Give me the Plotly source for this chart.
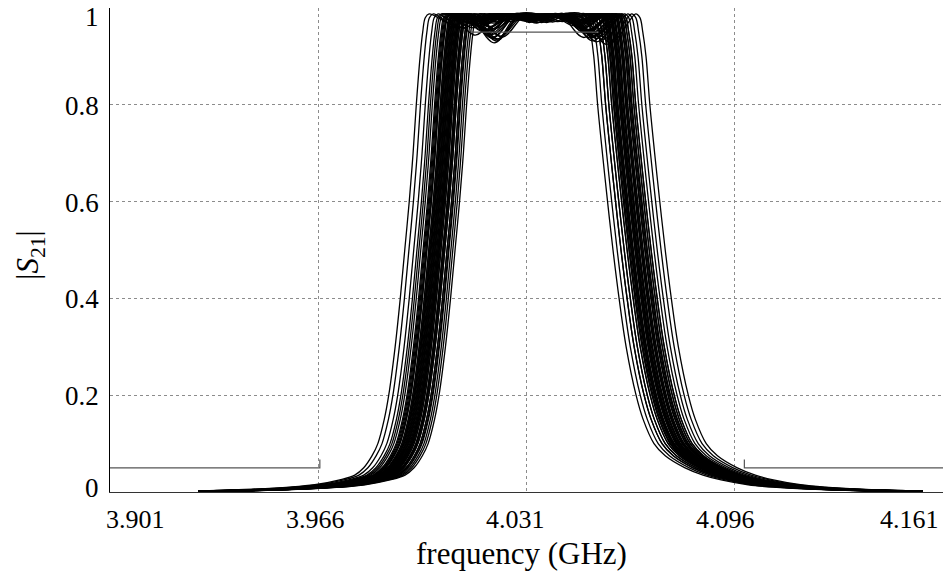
import plotly.graph_objects as go

# ---------------- data ----------------
# Axis ticks
x_tick_vals = [3.901, 3.966, 4.031, 4.096, 4.161]
x_tick_text = ["3.901", "3.966", "4.031", "4.096", "4.161"]
y_tick_vals = [0, 0.2, 0.4, 0.6, 0.8, 1.0]
y_tick_text = ["0", "0.2", "0.4", "0.6", "0.8", "1"]

# Lower-side 50% crossing (GHz) of each simulated response
left_half_ghz = [4.0005, 3.9930, 4.0037, 4.0018, 3.9987, 4.0062, 4.0024, 3.9943, 4.0049, 4.0012,
                 3.9974, 4.0030, 4.0055, 3.9999, 4.0043, 4.0080, 4.0018, 3.9958, 4.0037, 4.0068,
                 4.0005, 3.9993, 4.0024, 4.0049, 4.0087, 4.0012, 3.9980, 4.0043, 4.0030, 4.0062,
                 3.9968, 4.0055, 4.0074, 4.0018, 3.9999, 4.0037, 4.0024, 4.0049, 4.0008, 4.0040,
                 3.9990, 4.0066, 4.0034, 4.0021, 4.0015, 4.0027, 3.9996, 4.0052, 4.0033, 4.0010]
# Upper-side 50% crossing (GHz)
right_half_ghz = [4.0649, 4.0605, 4.0680, 4.0630, 4.0662, 4.0699, 4.0643, 4.0580, 4.0687, 4.0655,
                  4.0624, 4.0668, 4.0730, 4.0637, 4.0674, 4.0718, 4.0615, 4.0593, 4.0693, 4.0708,
                  4.0643, 4.0637, 4.0662, 4.0649, 4.0743, 4.0630, 4.0655, 4.0680, 4.0624, 4.0687,
                  4.0605, 4.0668, 4.0699, 4.0649, 4.0674, 4.0637, 4.0655, 4.0693, 4.0643, 4.0662,
                  4.0615, 4.0680, 4.0655, 4.0668, 4.0652, 4.0640, 4.0671, 4.0633, 4.0659, 4.0684]
# Passband ripple minima (|S21|)
left_dip = [0.972, 0.965, 0.950, 0.978, 0.968, 0.935, 0.975, 0.960, 0.945, 0.980,
            0.970, 0.955, 0.928, 0.973, 0.962, 0.940, 0.977, 0.958, 0.948, 0.971,
            0.982, 0.966, 0.952, 0.938, 0.974, 0.961, 0.979, 0.946, 0.969, 0.932,
            0.976, 0.957, 0.942, 0.967, 0.981, 0.953, 0.973, 0.939, 0.964, 0.978,
            0.959, 0.936, 0.970, 0.951, 0.962, 0.975, 0.944, 0.969, 0.957, 0.979]
right_dip = [0.968, 0.977, 0.945, 0.963, 0.974, 0.930, 0.970, 0.980, 0.940, 0.958,
             0.976, 0.950, 0.925, 0.969, 0.955, 0.935, 0.979, 0.972, 0.943, 0.953,
             0.966, 0.975, 0.948, 0.961, 0.928, 0.981, 0.957, 0.938, 0.971, 0.932,
             0.978, 0.952, 0.937, 0.964, 0.956, 0.973, 0.960, 0.942, 0.970, 0.949,
             0.979, 0.946, 0.967, 0.954, 0.958, 0.972, 0.948, 0.966, 0.939, 0.975]
mid_dip = [0.978, 0.972, 0.982, 0.975, 0.980, 0.970, 0.983, 0.976, 0.973, 0.981,
           0.979, 0.969, 0.984, 0.975, 0.977, 0.971, 0.981, 0.976, 0.970, 0.982,
           0.980, 0.973, 0.977, 0.983, 0.972, 0.979, 0.975, 0.981, 0.970, 0.977,
           0.982, 0.976, 0.973, 0.980, 0.972, 0.983, 0.975, 0.979, 0.981, 0.970,
           0.977, 0.973, 0.982, 0.976, 0.976, 0.980, 0.972, 0.978, 0.981, 0.974]
peak_level = 0.988

# Typical skirt shape: |S21| level -> offset (MHz) from the 50% point
left_levels = [0.003, 0.006, 0.01, 0.015, 0.025, 0.035, 0.05, 0.075, 0.1, 0.15, 0.2, 0.3, 0.4,
               0.5, 0.6, 0.7, 0.8, 0.9, 0.95, 0.98]
left_offset_mhz = [-60.9, -46.9, -35.9, -28.1, -20.3, -15.6, -12.8, -10.2, -8.4, -6.4, -5.0, -3.0, -1.4,
                   0.0, 1.4, 2.6, 3.6, 4.8, 5.6, 6.4]
right_levels = [0.98, 0.95, 0.9, 0.8, 0.7, 0.6, 0.5, 0.4, 0.3, 0.2, 0.15, 0.1, 0.075, 0.05,
                0.035, 0.025, 0.015, 0.01, 0.006, 0.003]
right_offset_mhz = [-7.9, -7.0, -6.0, -4.8, -3.3, -1.7, 0.0, 1.9, 4.1, 7.2, 9.4, 12.8, 16.3, 22.5,
                    28.1, 33.75, 42.2, 50.0, 60.9, 75.0]
left_corner_mhz = 7.6
right_corner_mhz = -9.2
ripple_step_mhz = 7.8
tail_start_ghz = 3.9285
tail_end_ghz = 4.1545
tail_level = 0.0015

# Specification mask
mask_left_x = [3.901, 3.9665, 3.9665]
mask_left_y = [0.05, 0.05, 0.067]
mask_right_x = [4.099, 4.099, 4.161]
mask_right_y = [0.067, 0.05, 0.05]
mask_pass_x = [4.0135, 4.0535]
mask_pass_y = [0.95, 0.95]

# ---------------- figure ----------------
fig = go.Figure()

for k in range(len(left_half_ghz)):
    L = left_half_ghz[k]
    R = right_half_ghz[k]
    Lc = L + left_corner_mhz / 1000
    Rc = R + right_corner_mhz / 1000
    st = ripple_step_mhz / 1000
    xs = [tail_start_ghz] + [L + o / 1000 for o in left_offset_mhz]
    ys = [tail_level] + list(left_levels)
    xs += [Lc, Lc + st, Lc + 2 * st, (Lc + Rc) / 2, Rc - 2 * st, Rc - st, Rc]
    ys += [peak_level, left_dip[k], peak_level, mid_dip[k], peak_level, right_dip[k], peak_level]
    xs += [R + o / 1000 for o in right_offset_mhz] + [tail_end_ghz]
    ys += list(right_levels) + [tail_level]
    fig.add_trace(go.Scatter(x=xs, y=ys, mode="lines",
                             line=dict(color="black", width=1.3, shape="spline", smoothing=1.0),
                             hoverinfo="skip", showlegend=False))

for mx, my in [(mask_left_x, mask_left_y), (mask_right_x, mask_right_y), (mask_pass_x, mask_pass_y)]:
    fig.add_trace(go.Scatter(x=mx, y=my, mode="lines",
                             line=dict(color="#555555", width=1.2),
                             hoverinfo="skip", showlegend=False))

font_family = "Liberation Serif, Times New Roman, Times, DejaVu Serif, serif"

# tick labels as annotations (to reproduce their placement)
x_label_shift = [25, -3, -11, -9, -34]
for v, t, s in zip(x_tick_vals, x_tick_text, x_label_shift):
    fig.add_annotation(x=v, y=0, xref="x", yref="paper", text=t, showarrow=False,
                       xanchor="center", yanchor="middle", xshift=s, yshift=-27,
                       font=dict(family=font_family, size=26, color="black"))
y_label_shift = [4, -1, -1, -1, -1, -9]
for v, t, s in zip(y_tick_vals, y_tick_text, y_label_shift):
    fig.add_annotation(x=0, y=v, xref="paper", yref="y", text=t, showarrow=False,
                       xanchor="right", yanchor="middle", xshift=-9, yshift=s,
                       font=dict(family=font_family, size=27, color="black"))

fig.add_annotation(x=0.5, y=0, xref="paper", yref="paper", text="frequency (GHz)",
                   showarrow=False, xanchor="center", yanchor="middle", xshift=-5, yshift=-61,
                   font=dict(family=font_family, size=31, color="black"))
fig.add_annotation(x=0, y=0.49, xref="paper", yref="paper", text="|<i>S</i><sub>21</sub>|",
                   showarrow=False, textangle=-90, xanchor="center", yanchor="middle", xshift=-80,
                   font=dict(family=font_family, size=31, color="black"))

fig.update_layout(
    width=943, height=573,
    margin=dict(l=110, r=0, t=8, b=81),
    paper_bgcolor="white", plot_bgcolor="white",
    showlegend=False,
    xaxis=dict(range=[3.901, 4.161], tickvals=x_tick_vals, showticklabels=False,
               showgrid=True, gridcolor="#8c8c8c", griddash="dot", gridwidth=1,
               showline=True, linecolor="#333333", linewidth=1.3, zeroline=False, ticks=""),
    yaxis=dict(range=[0, 1], tickvals=y_tick_vals, showticklabels=False,
               showgrid=True, gridcolor="#8c8c8c", griddash="dot", gridwidth=1,
               showline=True, linecolor="black", linewidth=1.3, zeroline=False, ticks=""),
)

fig.write_html("out.html")
